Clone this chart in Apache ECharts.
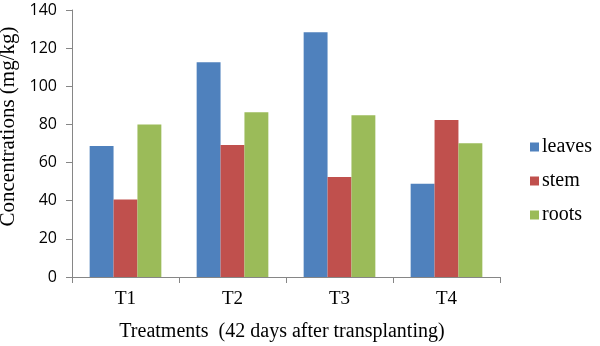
<!DOCTYPE html>
<html>
<head>
<meta charset="utf-8">
<script src="https://cdn.jsdelivr.net/npm/echarts@6/dist/echarts.min.js"></script>
<style>
  html, body { margin: 0; padding: 0; background: #fff; }
  #main { width: 600px; height: 346px; }
</style>
</head>
<body>
<div id="main"></div>
<script>
// data
var categories = ['T1', 'T2', 'T3', 'T4'];
var leaves = [68.7, 112.6, 128.3, 48.9];
var stem = [40.7, 69.2, 52.4, 82.3];
var roots = [80.0, 86.4, 84.8, 70.1];

var chart = echarts.init(document.getElementById('main'));
var serif = '"Liberation Serif", "Times New Roman", serif';
var sans = '"Open Sans", "DejaVu Sans", sans-serif';

var option = {
  animation: false,
  grid: { left: 72, right: 100, top: 10, bottom: 69, outerBoundsMode: 'none' },
  legend: {
    orient: 'vertical',
    left: 525,
    top: 132,
    itemWidth: 9,
    itemHeight: 9,
    itemGap: 14,
    icon: 'rect',
    textStyle: { fontFamily: serif, fontSize: 20, color: '#000', padding: [0, 0, 0, -2] },
    data: ['leaves', 'stem', 'roots']
  },
  xAxis: {
    type: 'category',
    data: categories,
    name: 'Treatments  (42 days after transplanting)',
    nameLocation: 'middle',
    nameGap: 45,
    nameTextStyle: { fontFamily: serif, fontSize: 20, color: '#000', padding: [0, 8, 0, 0] },
    axisLine: { lineStyle: { color: '#868686' } },
    axisTick: { show: true, length: 6, lineStyle: { color: '#868686' } },
    axisLabel: { fontFamily: serif, fontSize: 19, color: '#000', margin: 13 }
  },
  yAxis: {
    type: 'value',
    min: 0,
    max: 140,
    interval: 20,
    name: 'Concentrations (mg/kg)',
    nameLocation: 'middle',
    nameGap: 46,
    nameTextStyle: { fontFamily: serif, fontSize: 21, color: '#000', padding: [0, 0, 0, 34] },
    splitLine: { show: false },
    axisLine: { show: true, lineStyle: { color: '#868686' } },
    axisTick: { show: true, length: 6, lineStyle: { color: '#868686' } },
    axisLabel: { fontFamily: sans, fontSize: 16, color: '#000', margin: 15 }
  },
  series: [
    { name: 'leaves', type: 'bar', data: leaves, barGap: '0%', barCategoryGap: '33%',
      itemStyle: { color: '#4f81bd' } },
    { name: 'stem', type: 'bar', data: stem, barGap: '0%', barCategoryGap: '33%',
      itemStyle: { color: '#c0504d' } },
    { name: 'roots', type: 'bar', data: roots, barGap: '0%', barCategoryGap: '33%',
      itemStyle: { color: '#9bbb59' } }
  ]
};
chart.setOption(option);
</script>
</body>
</html>
